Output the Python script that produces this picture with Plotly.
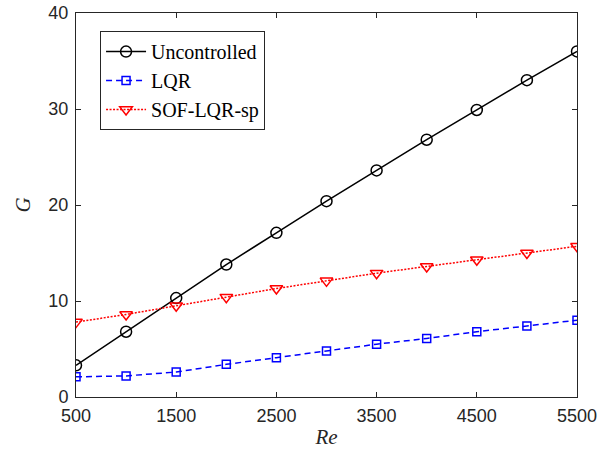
import plotly.graph_objects as go

re_vals = [500, 1000, 1500, 2000, 2500, 3000, 3500, 4000, 4500, 5000, 5500]
g_uncontrolled = [3.3, 6.8, 10.3, 13.8, 17.1, 20.4, 23.6, 26.8, 29.9, 33.0, 36.0]
g_lqr = [2.1, 2.2, 2.6, 3.4, 4.1, 4.8, 5.5, 6.1, 6.8, 7.4, 8.0]
g_sof = [7.8, 8.6, 9.5, 10.4, 11.3, 12.1, 12.9, 13.6, 14.3, 15.0, 15.7]
x_ticks = [500, 1500, 2500, 3500, 4500, 5500]
y_ticks = [0, 10, 20, 30, 40]

fig = go.Figure()
fig.add_trace(go.Scatter(x=re_vals, y=g_uncontrolled, name="Uncontrolled", mode="lines+markers",
                         line=dict(color="black", width=1.5),
                         marker=dict(symbol="circle-open", size=11, color="black", line=dict(width=1.5))))
fig.add_trace(go.Scatter(x=re_vals, y=g_lqr, name="LQR", mode="lines+markers",
                         line=dict(color="#0000ff", width=1.5, dash="6px,4px"),
                         marker=dict(symbol="square-open", size=8, color="#0000ff", line=dict(width=1.5))))
fig.add_trace(go.Scatter(x=re_vals, y=g_sof, name="SOF-LQR-sp", mode="lines+markers",
                         line=dict(color="#ff0000", width=1.5, dash="2px,1.5px"),
                         marker=dict(symbol="triangle-down-open", size=11, color="#ff0000", line=dict(width=1.5))))

axis_common = dict(showgrid=False, zeroline=False, showline=True, linecolor="#262626", linewidth=1,
                   mirror="ticks", ticks="inside", ticklen=5, tickcolor="#262626", automargin=False,
                   tickfont=dict(family="Liberation Sans, Arial", size=18, color="#262626"))
fig.update_xaxes(range=[500, 5500], tickvals=x_ticks, ticklabelstandoff=2,
                 title=dict(text="<i>Re</i>", font=dict(family="Liberation Serif, Times New Roman", size=21, color="#262626"), standoff=4),
                 **axis_common)
fig.update_yaxes(range=[0, 40], tickvals=y_ticks, ticklabelstandoff=3,
                 title=dict(text="<i>G</i>", font=dict(family="Liberation Serif, Times New Roman", size=21, color="#262626"), standoff=12),
                 **axis_common)
fig.update_layout(width=616, height=458, plot_bgcolor="white", paper_bgcolor="white",
                  margin=dict(l=76, r=39, t=13, b=61),
                  legend=dict(x=0.048, y=0.953, xanchor="left", yanchor="top",
                              bgcolor="white", bordercolor="#262626", borderwidth=1,
                              font=dict(family="Liberation Serif, Times New Roman", size=20, color="black"),
                              tracegroupgap=0, itemwidth=40))
fig.write_html("out.html", config={"displayModeBar": False},
               post_script="document.body.style.margin='0px';document.body.style.overflow='hidden';")
